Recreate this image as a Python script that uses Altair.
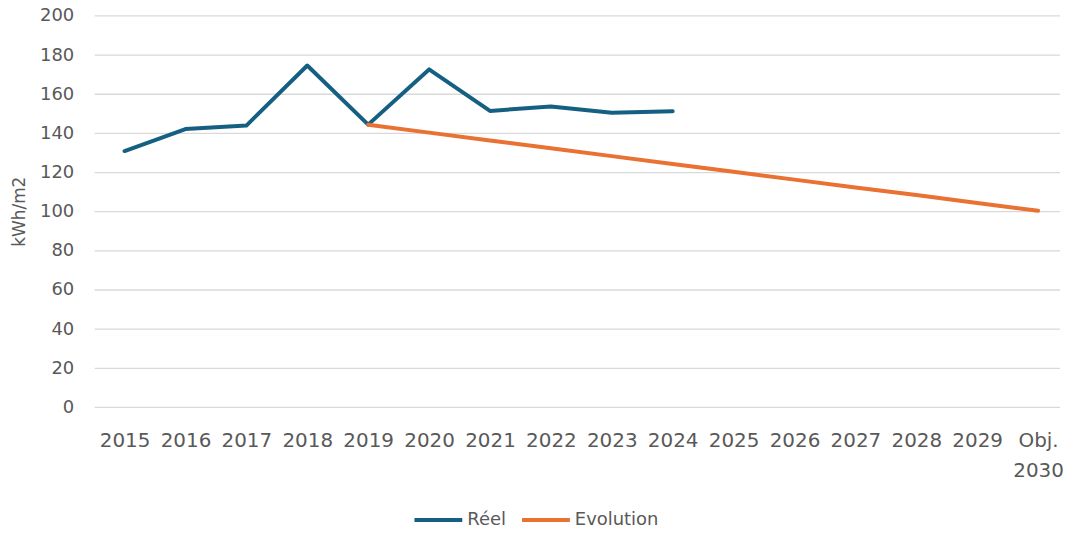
import altair as alt
import pandas as pd

categories = ["2015", "2016", "2017", "2018", "2019", "2020", "2021", "2022",
              "2023", "2024", "2025", "2026", "2027", "2028", "2029", "Obj. 2030"]

reel_years = ["2015", "2016", "2017", "2018", "2019", "2020", "2021", "2022", "2023", "2024"]
reel_values = [131.0, 142.2, 144.0, 174.7, 144.5, 172.7, 151.5, 153.8, 150.6, 151.3]

evol_years = ["2019", "2020", "2021", "2022", "2023", "2024", "2025", "2026",
              "2027", "2028", "2029", "Obj. 2030"]
evol_values = [144.4, 140.4, 136.4, 132.4, 128.4, 124.4, 120.4, 116.4, 112.4, 108.5, 104.5, 100.5]

series_names = ["Réel", "Evolution"]
series_colors = ["#156082", "#E97132"]
y_ticks = [0, 20, 40, 60, 80, 100, 120, 140, 160, 180, 200]

rows = []
for c, v in zip(reel_years, reel_values):
    rows.append({"cat": c, "val": v, "serie": "Réel", "ord": 0})
for c, v in zip(evol_years, evol_values):
    rows.append({"cat": c, "val": v, "serie": "Evolution", "ord": 1})
df = pd.DataFrame(rows)
grid_df = pd.DataFrame({"val": y_ticks})

W, H = 969, 393
FONT = "DejaVu Sans"
GRAY = "#595959"

y_enc = alt.Y("val:Q",
              scale=alt.Scale(domain=[0, 200], nice=False),
              axis=alt.Axis(title="kWh/m2", values=y_ticks, ticks=False, domain=False,
                            grid=False,
                            labelFont=FONT, labelFontSize=18, labelColor=GRAY, labelPadding=21,
                            titleFont=FONT, titleFontSize=17, titleFontWeight="normal",
                            titleColor=GRAY, titleAngle=-90, titleX=-75, titleY=196,
                            titleAlign="center", titleBaseline="middle"))

grid = alt.Chart(grid_df).mark_rule(color="#d9d9d9", strokeWidth=1.3).encode(
    y=y_enc,
    x=alt.value(0),
    x2=alt.value(W),
)

lines = alt.Chart(df).mark_line(strokeWidth=4, strokeCap="round", strokeJoin="round").encode(
    x=alt.X("cat:N", sort=categories,
            scale=alt.Scale(domain=categories, range=[30, 947], padding=0),
            axis=alt.Axis(title=None, labelAngle=0, ticks=False, domain=False, grid=False,
                          labelFont=FONT, labelFontSize=20, labelColor=GRAY,
                          labelPadding=23, labelLineHeight=30, labelBaseline="top",
                          labelExpr="datum.value == 'Obj. 2030' ? ['Obj.', '2030'] : datum.label")),
    y=y_enc,
    color=alt.Color("serie:N",
                    scale=alt.Scale(domain=series_names, range=series_colors),
                    legend=alt.Legend(title=None, orient="none", direction="horizontal",
                                      legendX=319, legendY=480, symbolType="stroke",
                                      symbolSize=2304, symbolStrokeWidth=4,
                                      labelFont=FONT, labelFontSize=18, labelColor=GRAY,
                                      labelOffset=3, columnPadding=8, padding=0)),
    detail="serie:N",
    order="ord:Q",
)

chart = alt.layer(grid, lines).properties(
    width=W, height=H,
    autosize=alt.AutoSizeParams(type="none"),
    padding={"left": 87, "top": 7, "right": 4, "bottom": 122},
).configure(background="white").configure_view(stroke=None)

chart.save("out.html", embed_options={"renderer": "svg", "actions": False})
